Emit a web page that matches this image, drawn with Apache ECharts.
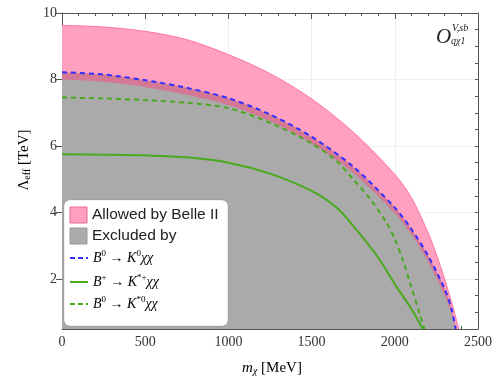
<!DOCTYPE html>
<html><head><meta charset="utf-8">
<script src="https://cdn.jsdelivr.net/npm/echarts@6/dist/echarts.min.js"></script>
<style>html,body{margin:0;padding:0;background:#fff}#c{width:495px;height:382px}</style>
</head><body><div id="c"></div>
<script>
// ---- data (m_chi in MeV, Lambda_eff in TeV) ----
const xTicks = [0, 500, 1000, 1500, 2000, 2500];
const yTicks = [2, 4, 6, 8, 10];

const massPinkHi = [0, 250, 500, 750, 1000, 1250, 1500, 1750, 2000, 2100, 2200, 2250, 2300, 2350, 2385];
const pinkHi     = [9.63, 9.58, 9.45, 9.2, 8.75, 8.18, 7.42, 6.42, 5.15, 4.45, 3.4, 2.75, 2.0, 1.15, 0.5];

const massPinkLo = [0, 250, 500, 750, 1000, 1250, 1500, 1750, 2000, 2100, 2200, 2300, 2340, 2362];
const pinkLo     = [8.0, 7.93, 7.77, 7.54, 7.23, 6.75, 6.08, 5.2, 3.98, 3.33, 2.52, 1.5, 0.95, 0.5];

const massBlue = [0, 250, 500, 750, 1000, 1250, 1500, 1750, 2000, 2100, 2200, 2300, 2340, 2366];
const blueK0   = [8.22, 8.15, 7.98, 7.75, 7.44, 6.95, 6.28, 5.38, 4.15, 3.5, 2.7, 1.7, 1.12, 0.5];

const massGreenDash = [0, 250, 500, 750, 1000, 1250, 1500, 1650, 1750, 1850, 1950, 2000, 2050, 2100, 2150, 2178];
const greenKstar0   = [7.46, 7.43, 7.38, 7.3, 7.14, 6.7, 6.08, 5.55, 5.0, 4.42, 3.7, 3.2, 2.55, 1.75, 0.95, 0.5];

const massGreenSolid = [0, 250, 500, 750, 1000, 1250, 1500, 1650, 1750, 1900, 2000, 2100, 2168];
const greenKstarP    = [5.75, 5.74, 5.72, 5.66, 5.5, 5.17, 4.65, 4.15, 3.6, 2.65, 1.85, 1.1, 0.5];

const zip = (xs, ys) => xs.map((x, i) => [x, ys[i]]);

const SERIF = 'Liberation Serif';
const SANS = 'Liberation Sans';
const PINK = 'rgb(255,160,192)';
const MAUVE = 'rgb(212,120,150)';
const GRAY = '#aaaaaa';
const BLUE = '#2f2fff';
const GREEN = '#48aa1c';
const SMOOTH = 0.3;

const chart = echarts.init(document.getElementById('c'), null, {renderer: 'canvas'});

const baseX = {
  type: 'value', min: 0, max: 2500, interval: 500,
  axisLine: {show: true, onZero: false, lineStyle: {color: '#555', width: 1}},
  axisTick: {show: true, inside: true, length: 6, lineStyle: {color: '#555'}},
  minorTick: {show: true, splitNumber: 5, length: 3, lineStyle: {color: '#555'}},
  splitLine: {show: false}
};
const baseY = {
  type: 'value', min: 0.5, max: 10, interval: 0.5,
  axisLine: {show: true, onZero: false, lineStyle: {color: '#555', width: 1}},
  axisTick: {show: true, inside: true, length: 3, lineStyle: {color: '#555'}},
  splitLine: {show: false}
};

const rich = {
  i: {fontFamily: SERIF, fontStyle: 'italic', fontSize: 14, color: '#222'},
  n: {fontFamily: SERIF, fontSize: 14, color: '#222'},
  sup: {fontFamily: SERIF, fontSize: 9, color: '#222', padding: [0, 0, 8, 0]}
};

function areaSeries(name, xs, ys, color, z) {
  return {
    name: name, type: 'line', data: zip(xs, ys), smooth: SMOOTH,
    showSymbol: false, symbol: 'none', lineStyle: {width: 0, opacity: 0},
    areaStyle: {color: color, opacity: 1, origin: 'start'}, z: z, silent: true
  };
}
function lineSeries(name, xs, ys, color, type, z, width) {
  return {
    name: name, type: 'line', data: zip(xs, ys), smooth: SMOOTH, z: z,
    showSymbol: false, symbol: 'none', lineStyle: {color: color, width: width || 2, type: type}, silent: true
  };
}

const legendX = 70;
const option = {
  animation: false,
  backgroundColor: '#fff',
  grid: {left: 62, right: 12, top: 13, bottom: 53, containLabel: false},
  xAxis: [
    Object.assign({}, baseX, {
      position: 'bottom',
      splitLine: {show: true, lineStyle: {color: '#efefef', width: 1}},
      axisLabel: {show: true, margin: 6, fontFamily: SERIF, fontSize: 14, color: '#333',
        customValues: xTicks, formatter: v => String(v)}
    }),
    Object.assign({}, baseX, {position: 'top', axisLabel: {show: false}})
  ],
  yAxis: [
    Object.assign({}, baseY, {
      position: 'left',
      axisLabel: {show: true, margin: 5, fontFamily: SERIF, fontSize: 14, color: '#333',
        customValues: yTicks, formatter: v => String(v)}
    }),
    Object.assign({}, baseY, {position: 'right', axisLabel: {show: false}}),
    {
      type: 'value', min: 0.5, max: 10, position: 'left',
      axisLine: {show: false},
      axisTick: {show: true, inside: true, length: 6, lineStyle: {color: '#555'}, customValues: yTicks},
      axisLabel: {show: false},
      splitLine: {show: true, lineStyle: {color: '#efefef', width: 1}}
    },
    {
      type: 'value', min: 0.5, max: 10, position: 'right',
      axisLine: {show: false},
      axisTick: {show: true, inside: true, length: 6, lineStyle: {color: '#555'}, customValues: yTicks},
      axisLabel: {show: false},
      splitLine: {show: false}
    }
  ],
  series: [
    areaSeries('Allowed', massPinkHi, pinkHi, PINK, 1),
    areaSeries('Overlap', massBlue, blueK0, MAUVE, 2),
    areaSeries('Excluded', massPinkLo, pinkLo, GRAY, 3),
    lineSeries('AllowedEdge', massPinkHi, pinkHi, 'rgba(255,100,150,0.8)', 'solid', 4, 1),
    lineSeries('B+ K*+', massGreenSolid, greenKstarP, GREEN, 'solid', 5),
    lineSeries('B0 K*0', massGreenDash, greenKstar0, GREEN, [5, 4], 5),
    lineSeries('B0 K0', massBlue, blueK0, BLUE, [5, 4], 6)
  ],
  graphic: [
    {type: 'rect', z: 100, shape: {x: 64, y: 200, width: 164, height: 126, r: 6},
      style: {fill: '#fff', stroke: 'rgba(0,0,0,0.12)', lineWidth: 1}},
    {type: 'rect', z: 101, shape: {x: legendX, y: 207, width: 17, height: 16},
      style: {fill: PINK, stroke: '#e86a98', lineWidth: 1}},
    {type: 'text', z: 101, x: 92, y: 215, style: {text: 'Allowed by Belle II', fontFamily: SANS, fontSize: 15.5,
      fill: '#222', verticalAlign: 'middle'}},
    {type: 'rect', z: 101, shape: {x: legendX, y: 228, width: 17, height: 16},
      style: {fill: GRAY, stroke: '#999', lineWidth: 1}},
    {type: 'text', z: 101, x: 92, y: 236, style: {text: 'Excluded by', fontFamily: SANS, fontSize: 15.5,
      fill: '#222', verticalAlign: 'middle'}},
    {type: 'line', z: 101, shape: {x1: legendX, y1: 258, x2: legendX + 18, y2: 258},
      style: {stroke: BLUE, lineWidth: 2, lineDash: [5, 3]}},
    {type: 'text', z: 101, x: 93, y: 258, style: {text: '{i|B}{sup|0}{n| → }{i|K}{sup|0}{i|χχ}', rich: rich,
      verticalAlign: 'middle'}},
    {type: 'line', z: 101, shape: {x1: legendX, y1: 282, x2: legendX + 18, y2: 282},
      style: {stroke: GREEN, lineWidth: 2}},
    {type: 'text', z: 101, x: 93, y: 282, style: {text: '{i|B}{sup|+}{n| → }{i|K}{sup|*+}{i|χχ}', rich: rich,
      verticalAlign: 'middle'}},
    {type: 'line', z: 101, shape: {x1: legendX, y1: 304, x2: legendX + 18, y2: 304},
      style: {stroke: GREEN, lineWidth: 2, lineDash: [5, 3]}},
    {type: 'text', z: 101, x: 93, y: 304, style: {text: '{i|B}{sup|0}{n| → }{i|K}{sup|*0}{i|χχ}', rich: rich,
      verticalAlign: 'middle'}},
    // operator label
    {type: 'text', z: 101, x: 436, y: 27, style: {text: 'O', fontFamily: SERIF, fontStyle: 'italic', fontSize: 21, fill: '#222'}},
    {type: 'text', z: 101, x: 452, y: 23, style: {text: 'V,sb', fontFamily: SERIF, fontStyle: 'italic', fontSize: 10, fill: '#222'}},
    {type: 'text', z: 101, x: 451, y: 36, style: {text: 'qχ1', fontFamily: SERIF, fontStyle: 'italic', fontSize: 10, fill: '#222'}},
    // axis names
    {type: 'text', z: 101, x: 272, y: 368, style: {text: '{i|m}{sub|χ}{n| [MeV]}', align: 'center', verticalAlign: 'middle',
      rich: {i: {fontFamily: SERIF, fontStyle: 'italic', fontSize: 15, color: '#333'},
             n: {fontFamily: SERIF, fontSize: 15, color: '#333'},
             sub: {fontFamily: SERIF, fontStyle: 'italic', fontSize: 10, color: '#333', padding: [7, 0, 0, 0]}}}},
    {type: 'text', z: 101, x: 24, y: 160, rotation: Math.PI / 2, style: {text: '{n|Λ}{sub|eff}{n| [TeV]}', align: 'center', verticalAlign: 'middle',
      rich: {n: {fontFamily: SERIF, fontSize: 15, color: '#333'},
             sub: {fontFamily: SERIF, fontSize: 10, color: '#333', padding: [7, 0, 0, 0]}}}}
  ]
};
chart.setOption(option);
</script>
</body></html>
